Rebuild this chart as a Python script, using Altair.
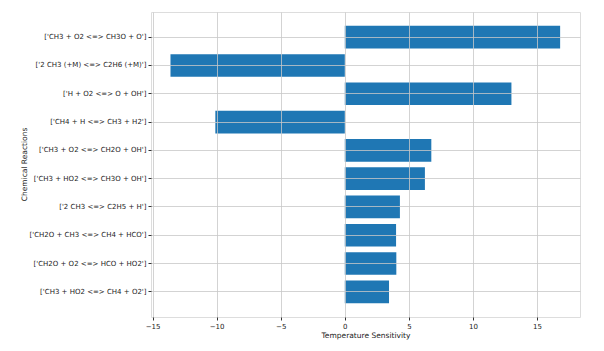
import altair as alt
import pandas as pd

reactions = [
    "['CH3 + O2 <=> CH3O + O']",
    "['2 CH3 (+M) <=> C2H6 (+M)']",
    "['H + O2 <=> O + OH']",
    "['CH4 + H <=> CH3 + H2']",
    "['CH3 + O2 <=> CH2O + OH']",
    "['CH3 + HO2 <=> CH3O + OH']",
    "['2 CH3 <=> C2H5 + H']",
    "['CH2O + CH3 <=> CH4 + HCO']",
    "['CH2O + O2 <=> HCO + HO2']",
    "['CH3 + HO2 <=> CH4 + O2']",
]
sensitivity = [16.8, -13.6, 13.0, -10.1, 6.75, 6.25, 4.3, 4.0, 4.02, 3.45]
x_ticks = [-15, -10, -5, 0, 5, 10, 15]

df = pd.DataFrame({"reaction": reactions, "sens": sensitivity})

font = "DejaVu Sans"

chart = alt.Chart(df).mark_bar(color="#1f77b4").encode(
    x=alt.X(
        "sens:Q",
        title="Temperature Sensitivity",
        scale=alt.Scale(domain=[-15.12, 18.35], nice=False, zero=False),
        axis=alt.Axis(
            values=x_ticks,
            format="d",
            grid=True,
            gridColor="#c8c8c8",
            gridWidth=0.8,
            tickColor="#333",
            tickSize=3,
            labelPadding=2,
            labelFont=font,
            labelFontSize=7,
            labelColor="#222",
            titleFont=font,
            titleFontSize=7.5,
            titleFontWeight="normal",
            titleColor="#222",
            titleBaseline="middle",
            titleY=18,
            domain=False,
            zindex=1,
        ),
    ),
    y=alt.Y(
        "reaction:N",
        sort=None,
        title="Chemical Reactions",
        scale=alt.Scale(paddingInner=0.2, paddingOuter=0.49),
        axis=alt.Axis(
            grid=True,
            gridColor="#c8c8c8",
            gridWidth=0.8,
            tickColor="#333",
            tickSize=3,
            labelPadding=2,
            labelFont=font,
            labelFontSize=7,
            labelColor="#222",
            titleFont=font,
            titleFontSize=7.5,
            titleFontWeight="normal",
            titleColor="#222",
            titleAngle=-90,
            titleBaseline="middle",
            titleAlign="center",
            titleX=-127,
            titleY=152,
            domain=False,
            zindex=1,
        ),
    ),
).properties(
    width=429,
    height=305,
    autosize=alt.AutoSizeParams(type="none"),
    padding={"left": 151, "top": 12, "right": 24, "bottom": 34},
).configure_view(
    stroke="#444",
    strokeWidth=1,
).configure(background="white")

chart.save("out.html", embed_options={"renderer": "svg", "actions": False})
